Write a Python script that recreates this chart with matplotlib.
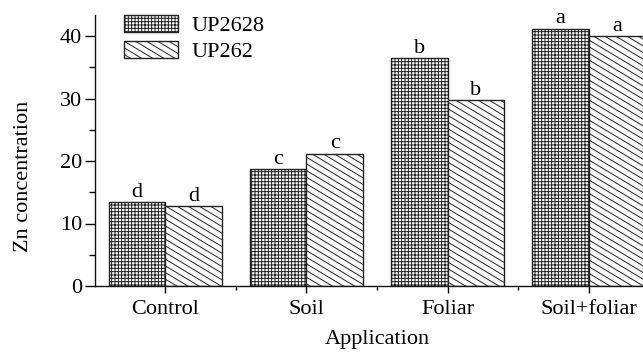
import numpy as np
import matplotlib
matplotlib.use("Agg")
import matplotlib.pyplot as plt
from matplotlib import hatch as mhatch
from matplotlib.path import Path

# ---- data ----
categories = ["Control", "Soil", "Foliar", "Soil+foliar"]
series_names = ["UP2628", "UP262"]
up2628 = [13.4, 18.7, 36.5, 41.2]
up262 = [12.8, 21.2, 29.7, 40.0]
letters_up2628 = ["d", "c", "b", "a"]
letters_up262 = ["d", "c", "b", "a"]
yticks = [0, 10, 20, 30, 40]


# ---- custom shallow "\" hatch (about 31 degrees), replaces the default 45 deg one ----
class ShallowSouthEastHatch(mhatch.HatchPatternBase):
    K = 15        # lines per tile (vertical spacing)
    SLOPE = 9     # drop per tile width in units of 1/K

    def __init__(self, hatch, density):
        if hatch.count('\\') > 0:
            self.num_lines = self.K + self.SLOPE + 1
        else:
            self.num_lines = 0
        self.num_vertices = self.num_lines * 2

    def set_vertices_and_codes(self, vertices, codes):
        c = np.arange(self.num_lines) / self.K
        vertices[0::2, 0] = 0.0
        vertices[0::2, 1] = c
        vertices[1::2, 0] = 1.0
        vertices[1::2, 1] = c - self.SLOPE / self.K
        codes[0::2] = Path.MOVETO
        codes[1::2] = Path.LINETO

    get_vertices_and_codes = set_vertices_and_codes


mhatch._hatch_types = [ShallowSouthEastHatch if t is mhatch.SouthEastHatch else t
                       for t in mhatch._hatch_types]

plt.rcParams['font.family'] = ['Liberation Serif', 'DejaVu Serif']
plt.rcParams['hatch.linewidth'] = 0.7
plt.rcParams['hatch.color'] = '#111111'

fig = plt.figure(figsize=(6.43, 3.55), dpi=100)
ax = fig.add_axes([94.5 / 643, 69 / 355, 565 / 643, 271 / 355])

x = np.arange(len(categories))
w = 0.4
fs = 16

b1 = ax.bar(x - w / 2, up2628, width=w, facecolor='white', edgecolor='#222222',
            linewidth=1.0, hatch='+++++', label=series_names[0])
b2 = ax.bar(x + w / 2, up262, width=w, facecolor='white', edgecolor='#222222',
            linewidth=1.0, hatch='\\', label=series_names[1])

for xi, v, t in zip(x - w / 2, up2628, letters_up2628):
    ax.text(xi, v + 0.05, t, ha='center', va='bottom', fontsize=fs)
for xi, v, t in zip(x + w / 2, up262, letters_up262):
    ax.text(xi, v + 0.05, t, ha='center', va='bottom', fontsize=fs)

ax.set_xlim(-0.5, 3.5)
ax.set_ylim(0, 43.36)
ax.set_xticks(x)
ax.set_xticklabels(categories, fontsize=fs)
ax.set_xticks(x + 0.5, minor=True)
ax.set_yticks(yticks)
ax.set_yticklabels([str(v) for v in yticks], fontsize=fs)
ax.set_yticks(np.array(yticks[:-1]) + 5, minor=True)

ax.tick_params(axis='x', which='major', direction='out', length=5, width=1, pad=5)
ax.tick_params(axis='x', which='minor', direction='out', length=3, width=1)
ax.tick_params(axis='y', which='major', direction='out', length=7, width=1, pad=2)
ax.tick_params(axis='y', which='minor', direction='out', length=4, width=1)

for s in ['top', 'right']:
    ax.spines[s].set_visible(False)
for s in ['left', 'bottom']:
    ax.spines[s].set_linewidth(1.0)
    ax.spines[s].set_color('#111111')

ax.set_xlabel("Application", fontsize=fs, labelpad=8)
ax.set_ylabel("Zn concentration", fontsize=fs)
ax.yaxis.set_label_coords(-0.108, 0.405)

leg = ax.legend(loc='upper left', bbox_to_anchor=((124 - 94.5) / 565, 1.0),
                frameon=False, fontsize=fs, borderpad=0, borderaxespad=0,
                handlelength=2.45, handleheight=0.8, handletextpad=0.6,
                labelspacing=0.2)

fig.savefig("out.png", dpi=100)
